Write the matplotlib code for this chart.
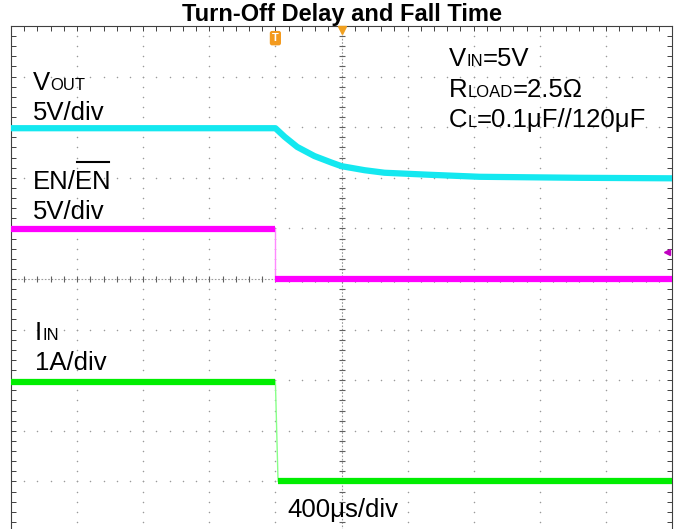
import numpy as np
import matplotlib.pyplot as plt
from matplotlib.lines import Line2D

plt.rcParams['font.family'] = ['Liberation Sans', 'DejaVu Sans']

W, H = 678, 529

# scope screen in divisions: time -5..5, level -5..5
vout_t = [-5.0, -1.0, -0.86, -0.67, -0.41, -0.15, 0.0, 0.35, 0.65, 1.33, 2.09, 3.6, 5.0]
vout_v = [2.98, 2.98, 2.81, 2.61, 2.43, 2.30, 2.23, 2.15, 2.10, 2.06, 2.02, 2.0, 1.99]
en_t = [-5.0, -1.0, -1.0, 5.0]
en_v = [0.99, 0.99, 0.0, 0.0]
iin_t = [-5.0, -1.0, -0.96, 5.0]
iin_v = [-2.03, -2.03, -4.0, -4.0]
trig_t = -1.0
en_ref = 0.53

CYAN = '#14e8f0'
MAGENTA = '#ff00ff'
GREEN = '#00ee00'
GRID = '#9a9a9a'

fig = plt.figure(figsize=(W / 100, H / 100), dpi=100)
ax = fig.add_axes([11 / W, 1 - 532 / H, 661 / W, 506 / H])
ax.set_xlim(-5, 5)
ax.set_ylim(-5, 5)

# dotted graticule
minor = np.round(np.arange(-5, 5.01, 0.2), 2)
for k in range(-4, 5):
    if k == 0:
        continue
    ax.scatter(np.full(minor.size, k), minor, s=1.2, color=GRID, lw=0, zorder=1)
    ax.scatter(minor, np.full(minor.size, k), s=1.2, color=GRID, lw=0, zorder=1)
ax.axhline(0, color=GRID, lw=0.8, ls=(0, (1.5, 1.5)), zorder=1)
ax.axvline(0, color=GRID, lw=0.8, ls=(0, (1.5, 1.5)), zorder=1)
ax.plot(minor, np.zeros(minor.size), ls='none', marker='|', ms=5, mew=0.8, color='#606060', zorder=1)
ax.plot(np.zeros(minor.size), minor, ls='none', marker='_', ms=5, mew=0.8, color='#606060', zorder=1)

for side in ['left', 'right', 'top']:
    ax.spines[side].set_color('#404040')
ax.spines['bottom'].set_visible(False)
ax.set_xticks(np.arange(-5, 6, 1))
ax.set_yticks(np.arange(-5, 6, 1))
ax.set_xticks(minor, minor=True)
ax.set_yticks(minor, minor=True)
ax.tick_params(which='both', direction='in', left=True, right=True, top=True, bottom=False,
               labelleft=False, labelbottom=False, length=3.5, width=0.7, color='#404040')

# traces
ax.plot(vout_t, vout_v, color=CYAN, lw=4.5, solid_capstyle='butt', solid_joinstyle='round', zorder=3)
ax.plot(en_t[1:3], en_v[1:3], color='#ff88ff', lw=1, zorder=3)
ax.plot(en_t[:2], en_v[:2], color=MAGENTA, lw=4.5, solid_capstyle='butt', zorder=3)
ax.plot(en_t[2:], en_v[2:], color=MAGENTA, lw=4.5, solid_capstyle='butt', zorder=3)
ax.plot(iin_t[1:3], iin_v[1:3], color='#88ff88', lw=1, zorder=3)
ax.plot(iin_t[:2], iin_v[:2], color=GREEN, lw=4.5, solid_capstyle='butt', zorder=3)
ax.plot(iin_t[2:], iin_v[2:], color=GREEN, lw=4.5, solid_capstyle='butt', zorder=3)

# markers
ax.plot([0], [4.93], marker='v', ms=6, color='#f0a020', clip_on=False, zorder=4)
ax.text(trig_t, 4.76, 'T', color='white', fontsize=8, fontweight='bold', ha='center', va='center',
        bbox=dict(boxstyle='round,pad=0.2', fc='#f39a1e', ec='none'), zorder=4)
ax.plot([4.92], [en_ref], marker='<', ms=5, color='#c000c0', zorder=4)

fig.text(342.5 / W, 1 - 21 / H, 'Turn-Off Delay and Fall Time', fontsize=17,
         fontweight='bold', ha='center', va='baseline')

r = fig.canvas.get_renderer()


def label(x, y, parts, size=18.5, sub=12):
    for s, is_sub in parts:
        t = fig.text(x / W, 1 - y / H, s, fontsize=sub if is_sub else size,
                     ha='left', va='baseline')
        x = t.get_window_extent(r).x1


label(33, 90, [('V', False), ('OUT', True)])
label(33, 120, [('5V/div', False)])
label(33, 189, [('EN/EN', False)])
fig.add_artist(Line2D([77 / W, 109 / W], [1 - 162.5 / H] * 2, color='black', lw=1.5))
label(33, 219, [('5V/div', False)])
label(35, 340, [('I', False), ('IN', True)])
label(35, 370, [('1A/div', False)])
label(449, 66, [('V', False), ('IN', True), ('=5V', False)])
label(449, 97, [('R', False), ('LOAD', True), ('=2.5Ω', False)])
label(449, 127, [('C', False), ('L', True), ('=0.1μF//120μF', False)])
label(287, 517, [('400μs/div', False)])

fig.savefig('out.png', dpi=100)
